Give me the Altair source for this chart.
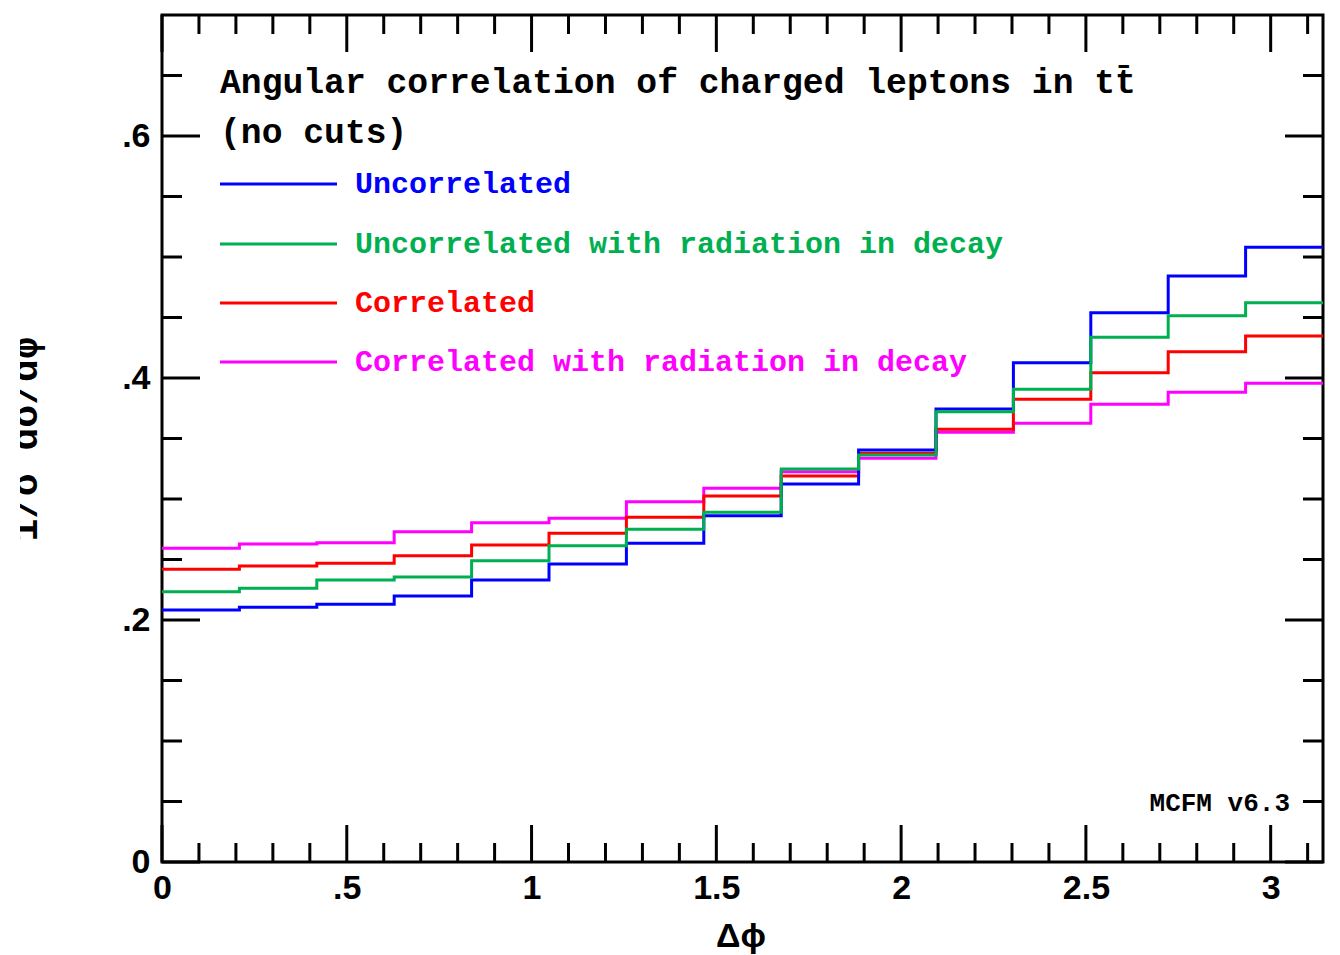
import altair as alt
import pandas as pd
import math

# ---- data (15 bins over 0..pi) ----
n_bins = 15
bin_width = math.pi / n_bins
series_names = [
    "Uncorrelated",
    "Uncorrelated with radiation in decay",
    "Correlated",
    "Correlated with radiation in decay",
]
series_colors = ["#0000ff", "#00b050", "#ff0000", "#ff00ff"]

uncorrelated = [0.2083, 0.2105, 0.2130, 0.2198, 0.2331, 0.2463, 0.2634, 0.2862,
                0.3124, 0.3405, 0.3744, 0.4126, 0.4540, 0.4843, 0.5080]
uncorrelated_rad = [0.2234, 0.2262, 0.2331, 0.2355, 0.2490, 0.2614, 0.2750, 0.2890,
                    0.3248, 0.3364, 0.3721, 0.3907, 0.4336, 0.4515, 0.4622]
correlated = [0.2419, 0.2446, 0.2469, 0.2531, 0.2620, 0.2717, 0.2849, 0.3025,
              0.3190, 0.3378, 0.3576, 0.3824, 0.4044, 0.4217, 0.4347]
correlated_rad = [0.2593, 0.2628, 0.2639, 0.2730, 0.2804, 0.2840, 0.2978, 0.3088,
                  0.3226, 0.3336, 0.3551, 0.3626, 0.3783, 0.3882, 0.3956]
series_values = [uncorrelated, uncorrelated_rad, correlated, correlated_rad]

x_tick_labels = [0, 0.5, 1, 1.5, 2, 2.5, 3]
y_tick_labels = [0, 0.2, 0.4, 0.6]
x_minor = [round(0.1 * i, 1) for i in range(1, 32) if i % 5 != 0]
y_minor = [round(0.05 * i, 2) for i in range(1, 14) if i % 4 != 0]

W, H = 1161, 847
X_DOM = [0, math.pi]
Y_DOM = [0, 0.7]
MONO = "Liberation Mono"
SANS = "Liberation Sans"

xs = alt.Scale(domain=X_DOM, nice=False, zero=False)
ys = alt.Scale(domain=Y_DOM, nice=False, zero=False)

label_expr = ("datum.value > 0 && datum.value < 1 ? '.' + substring(toString(datum.value), 2)"
              " : toString(datum.value)")

# base with axes (labels only)
base_df = pd.DataFrame({"x": [0.0], "y": [0.0]})
axes = alt.Chart(base_df).mark_point(opacity=0).encode(
    x=alt.X("x:Q", scale=xs, axis=alt.Axis(
        values=x_tick_labels, labelExpr=label_expr, domain=False, ticks=False, grid=False,
        labelFont=SANS, labelFontSize=34, labelFontWeight="bold", labelColor="black",
        labelPadding=9, labelFlush=False, labelOverlap=False, title=None)),
    y=alt.Y("y:Q", scale=ys, axis=alt.Axis(
        values=y_tick_labels, labelExpr=label_expr, domain=False, ticks=False, grid=False,
        labelFont=SANS, labelFontSize=34, labelFontWeight="bold", labelColor="black",
        labelPadding=12, labelFlush=False, labelOverlap=False, title=None)),
)

layers = [axes]

# step histograms
draw_order = [3, 2, 0, 1]
for i in draw_order:
    xs_pts = [k * bin_width for k in range(n_bins)] + [math.pi]
    vals = series_values[i] + [series_values[i][-1]]
    df = pd.DataFrame({"x": xs_pts, "y": vals})
    layers.append(
        alt.Chart(df).mark_line(interpolate="step-after", strokeWidth=3, color=series_colors[i])
        .encode(x=alt.X("x:Q", scale=xs), y=alt.Y("y:Q", scale=ys))
    )

# inward ticks on all four sides
def xticks(vals, length):
    df = pd.DataFrame({"x": vals})
    bottom = alt.Chart(df).mark_rule(color="black", strokeWidth=3).encode(
        x=alt.X("x:Q", scale=xs), y=alt.value(H), y2=alt.value(H - length))
    top = alt.Chart(df).mark_rule(color="black", strokeWidth=3).encode(
        x=alt.X("x:Q", scale=xs), y=alt.value(0), y2=alt.value(length))
    return [bottom, top]

def yticks(vals, length):
    df = pd.DataFrame({"y": vals})
    left = alt.Chart(df).mark_rule(color="black", strokeWidth=3).encode(
        y=alt.Y("y:Q", scale=ys), x=alt.value(0), x2=alt.value(length))
    right = alt.Chart(df).mark_rule(color="black", strokeWidth=3).encode(
        y=alt.Y("y:Q", scale=ys), x=alt.value(W), x2=alt.value(W - length))
    return [left, right]

layers += xticks(x_tick_labels, 37) + xticks(x_minor, 19)
layers += yticks(y_tick_labels, 38) + yticks(y_minor, 20)

def label(text, x, y, size, color="black", font=MONO, align="left", angle=0, baseline="middle",
          weight="bold", style="normal"):
    return alt.Chart(pd.DataFrame({"t": [text]})).mark_text(
        font=font, fontSize=size, fontWeight=weight, fontStyle=style, color=color,
        align=align, baseline=baseline, angle=angle,
    ).encode(text="t:N", x=alt.value(x), y=alt.value(y))

# title
layers.append(label("Angular correlation of charged leptons in tt\u0304", 58, 68, 34.7))
layers.append(label("(no cuts)", 58, 118, 34.7))

# legend
legend_y = [169, 229, 288, 347]
for name, col, ly in zip(series_names, series_colors, legend_y):
    layers.append(alt.Chart(pd.DataFrame({"t": [name]})).mark_rule(color=col, strokeWidth=3).encode(
        x=alt.value(58), x2=alt.value(175), y=alt.value(ly)))
    layers.append(label(name, 193, ly, 30, color=col))

# version tag
layers.append(label("MCFM v6.3", 1128, 788, 26, align="right"))

# axis titles
layers.append(label("\u0394\u03d5", 579, 922, 34, font=SANS, align="center"))
layers.append(label("1/\u03c3 d\u03c3/d\u03d5", -125, 424, 38, align="center", angle=270,
                    baseline="alphabetic"))
# white margin strip (reference image is cut at the left edge)
layers.append(alt.Chart(pd.DataFrame({"a": [0]})).mark_rect(color="white").encode(
    x=alt.value(-162), x2=alt.value(-142), y=alt.value(200), y2=alt.value(650)))

chart = alt.layer(*layers).properties(
    width=W, height=H,
    autosize=alt.AutoSizeParams(type="none"),
    padding={"left": 162, "top": 15, "right": 17, "bottom": 93},
    background="white",
).configure_view(stroke="black", strokeWidth=3)

chart.save("out.html", embed_options={"renderer": "svg", "actions": False})
